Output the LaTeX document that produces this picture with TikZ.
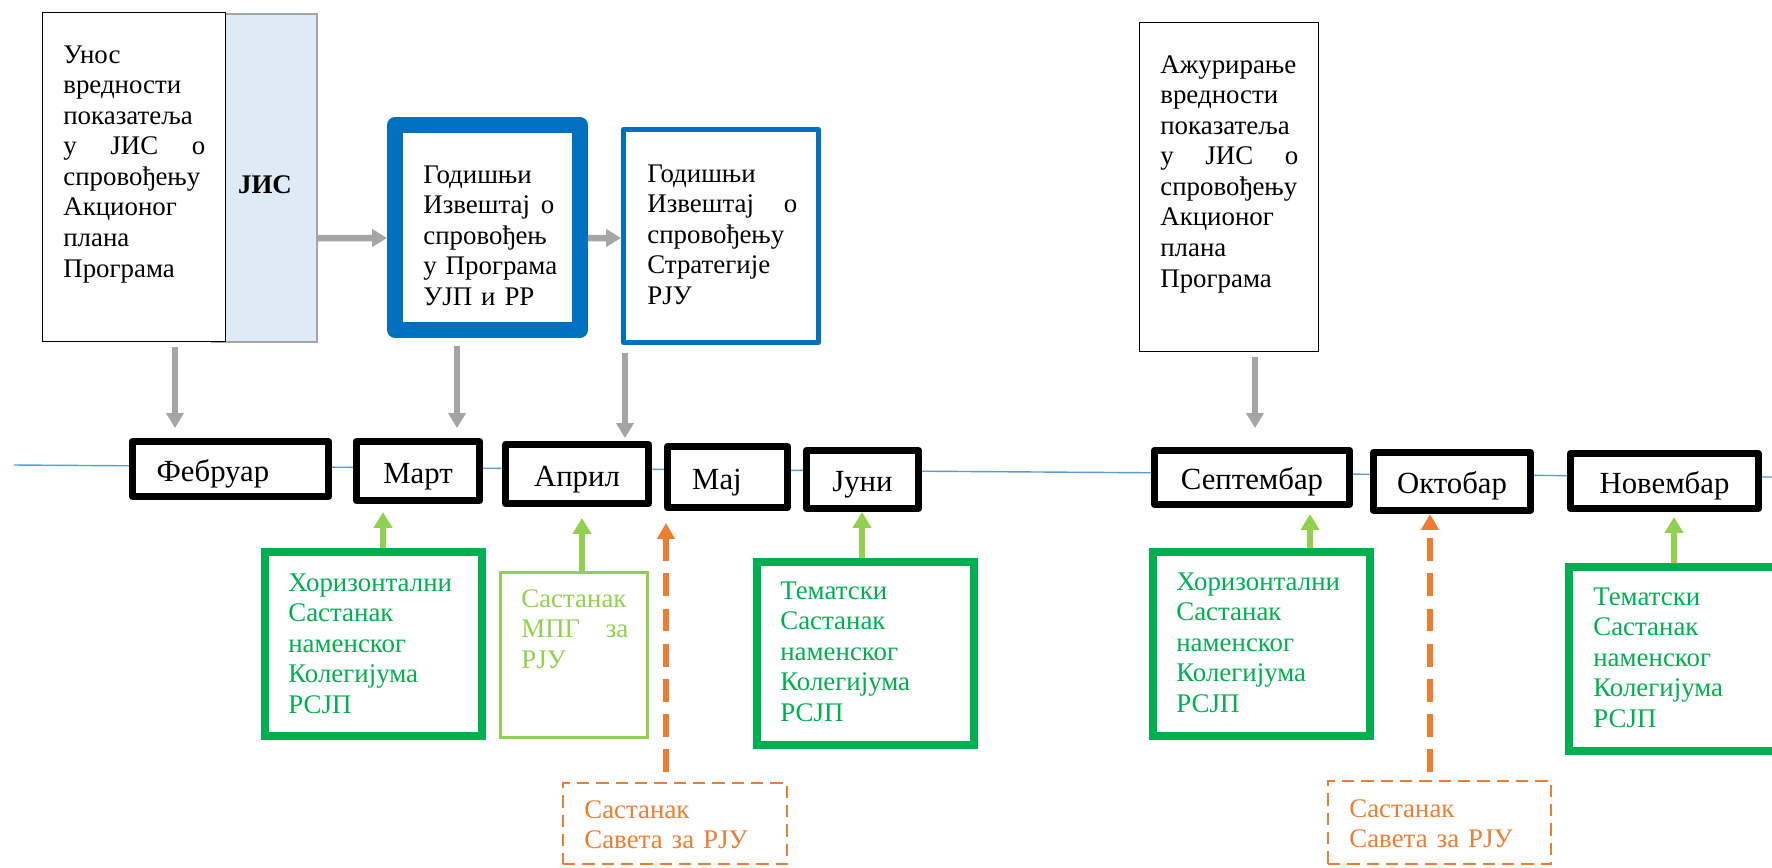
\documentclass[tikz,border=0pt]{standalone}
\usepackage{fontspec}
\setmainfont{Liberation Serif}
\usepackage{xcolor}
\definecolor{planBlue}{HTML}{0070C0}
\definecolor{lineBlue}{HTML}{5B9BD5}
\definecolor{jisFill}{HTML}{DEEBF7}
\definecolor{arrowGray}{HTML}{A5A5A5}
\definecolor{meetGreen}{HTML}{00B050}
\definecolor{mpgGreen}{HTML}{92D050}
\definecolor{councilOrange}{HTML}{ED7D31}
\usepackage{tikz}
\usetikzlibrary{arrows.meta,calc}
\tikzset{
    entry/.style={
        draw=black,
        fill=white,
        rectangle,
        line width=0.75pt
    },
    jis/.style={
        draw=arrowGray,
        fill=jisFill,
        rectangle,
        line width=1.2pt
    },
    report/.style={
        draw=planBlue,
        fill=white,
        rectangle,
        line join=round
    },
    month/.style={
        draw=black,
        fill=white,
        rectangle,
        line width=4pt,
        line join=round,
        inner sep=0pt,
        text height=18pt,
        text depth=4pt,
        font=\fontsize{17.5}{20}\selectfont
    },
    meeting/.style={
        draw=meetGreen,
        fill=white,
        rectangle,
        line width=4.5pt
    },
    mpg/.style={
        draw=mpgGreen,
        fill=white,
        rectangle,
        line width=1.7pt
    },
    council/.style={
        draw=councilOrange,
        fill=white,
        rectangle,
        line width=1.2pt,
        dash pattern=on 7pt off 4pt
    },
    boxtext/.style={
        anchor=base west,
        inner sep=0pt,
        align=left,
        text width=4cm,
        font=\fontsize{15.3}{17.4}\selectfont
    },
    timeline/.style={
        draw=lineBlue,
        line width=0.8pt
    },
    grayarrow/.style={
        -{Triangle[width=9.7pt,length=8.5pt]},
        line width=3.7pt,
        color=arrowGray
    },
    greenarrow/.style={
        -{Triangle[width=10.2pt,length=9pt]},
        line width=3.4pt,
        color=mpgGreen
    },
    dasharrow/.style={
        -{Triangle[width=9.7pt,length=9pt]},
        line width=3.1pt,
        color=councilOrange,
        dash pattern=on 13pt off 7pt
    }
}

\begin{document}
\begin{tikzpicture}[x=0.02cm, y=-0.02cm]
    \clip (0,0) rectangle (1772,867);

    % Timeline
    \coordinate (tlstart) at (14,465);
    \coordinate (tlend) at (1772,477);
    \draw[timeline] (tlstart) -- (tlend);

    % Entry in JIS
    \node[jis, minimum width=2.1cm, minimum height=6.56cm] (jis) at (264.5,178) {};
    \node[font=\fontsize{15.3}{17.4}\selectfont\bfseries] (jislabel) at (265,185) {ЈИС};
    \node[entry, minimum width=3.66cm, minimum height=6.58cm] (unos) at (134,177) {};
    \node[boxtext, text width=2.84cm] (unostext) at (63,63)
        {Унос\\вредности\\показатеља\\у\hfill ЈИС\hfill о\\спровођењу\\Акционог\\плана\\Програма};

    % Annual reports
    \node[report, line width=9pt, minimum width=3.7cm, minimum height=4.1cm] (god1) at (487.5,227.5) {};
    \node[boxtext, text width=2.62cm] (god1text) at (423,183)
        {Годишњи\\Извештај\hfill о\\спровођењ\\у~Програма\\УЈП~и~РР};
    \node[report, line width=2.8pt, minimum width=3.9cm, minimum height=4.26cm] (god2) at (721,236) {};
    \node[boxtext, text width=3.0cm] (god2text) at (647,182)
        {Годишњи\\Извештај\hfill о\\спровођењу\\Стратегије\\РЈУ};

    % Update in JIS
    \node[entry, minimum width=3.58cm, minimum height=6.58cm] (azur) at (1229,187) {};
    \node[boxtext, text width=2.76cm] (azurtext) at (1160,73)
        {Ажурирање\\вредности\\показатеља\\у\hfill ЈИС\hfill о\\спровођењу\\Акционог\\плана\\Програма};

    % Months
    \node[month, minimum width=3.92cm, minimum height=1.10cm] (feb) at (230.5,469) {Фебруар\hspace*{20pt}};
    \node[month, minimum width=2.46cm, minimum height=1.18cm] (mart) at (418,471) {Март};
    \node[month, minimum width=2.86cm, minimum height=1.18cm] (april) at (577,474) {Април};
    \node[month, minimum width=2.40cm, minimum height=1.22cm] (maj) at (727.5,477) {Мај\hspace*{12pt}};
    \node[month, minimum width=2.24cm, minimum height=1.16cm] (juni) at (862.5,479.5) {Јуни};
    \node[month, minimum width=3.90cm, minimum height=1.08cm] (sept) at (1252,477.5) {Септембар};
    \node[month, minimum width=3.14cm, minimum height=1.16cm] (okt) at (1452,481.5) {Октобар};
    \node[month, minimum width=3.76cm, minimum height=1.10cm] (nov) at (1664.5,481) {Новембар};

    % Meetings
    \node[meeting, minimum width=4.34cm, minimum height=3.68cm] (horiz1) at (373.5,644) {};
    \node[boxtext, text=meetGreen] (horiz1text) at (288,591)
        {Хоризонтални\\Састанак\\наменског\\Колегијума\\РСЈП};
    \node[mpg, minimum width=2.94cm, minimum height=3.3cm] (mpg) at (574,655) {};
    \node[boxtext, text=mpgGreen, text width=2.14cm] (mpgtext) at (521,607)
        {Састанак\\МПГ\hfill за\\РЈУ};
    \node[meeting, minimum width=4.34cm, minimum height=3.66cm] (tem1) at (865.5,653.5) {};
    \node[boxtext, text=meetGreen] (tem1text) at (780,599)
        {Тематски\\Састанак\\наменског\\Колегијума\\РСЈП};
    \node[meeting, minimum width=4.34cm, minimum height=3.68cm] (horiz2) at (1261.5,644) {};
    \node[boxtext, text=meetGreen] (horiz2text) at (1176,590)
        {Хоризонтални\\Састанак\\наменског\\Колегијума\\РСЈП};
    \node[meeting, minimum width=4.42cm, minimum height=3.68cm] (tem2) at (1679.5,659) {};
    \node[boxtext, text=meetGreen] (tem2text) at (1593,605)
        {Тематски\\Састанак\\наменског\\Колегијума\\РСЈП};

    % Council
    \node[council, minimum width=4.48cm, minimum height=1.62cm] (sav1) at (675,823.5) {};
    \node[boxtext, text=councilOrange] (sav1text) at (584,818) {Састанак\\Савета~за~РЈУ};
    \node[council, minimum width=4.46cm, minimum height=1.66cm] (sav2) at (1439.5,822.5) {};
    \node[boxtext, text=councilOrange] (sav2text) at (1349,817) {Састанак\\Савета~за~РЈУ};

    % Gray arrows
    \draw[grayarrow] ($(jis.east)+(0,60)$) -- ($(god1.west)+(0,10.5)$);
    \draw[grayarrow] ($(god1.east)+(0,10.5)$) -- ($(god2.west)+(0,2)$);
    \draw[grayarrow] ($(unos.south)+(41,5)$) -- ($(feb.north)+(-55.5,-10)$);
    \draw[grayarrow] ($(god1.south)+(-30.5,8)$) -- ($(mart.north)+(39,-10)$);
    \draw[grayarrow] ($(god2.south)+(-96,8)$) -- ($(april.north)+(48,-3)$);
    \draw[grayarrow] ($(azur.south)+(26,5)$) -- ($(sept.north)+(3,-19)$);

    % Green arrows
    \draw[greenarrow] ($(horiz1.north)+(9.5,0)$) -- ($(mart.south)+(-35,8)$);
    \draw[greenarrow] ($(mpg.north)+(8,0)$) -- ($(april.south)+(5,11)$);
    \draw[greenarrow] ($(tem1.north)+(-3.5,0)$) -- ($(juni.south)+(-0.5,0)$);
    \draw[greenarrow] ($(horiz2.north)+(48.5,0)$) -- ($(sept.south)+(58,6)$);
    \draw[greenarrow] ($(tem2.north)+(-5.5,0)$) -- ($(nov.south)+(9.5,5)$);

    % Orange arrows
    \draw[dasharrow] ($(sav1.north)+(-9,-10)$) -- ($(maj.south)+(-61.5,12)$);
    \draw[dasharrow] ($(sav2.north)+(-9.5,-8)$) -- ($(okt.south)+(-22,0)$);
\end{tikzpicture}
\end{document}
